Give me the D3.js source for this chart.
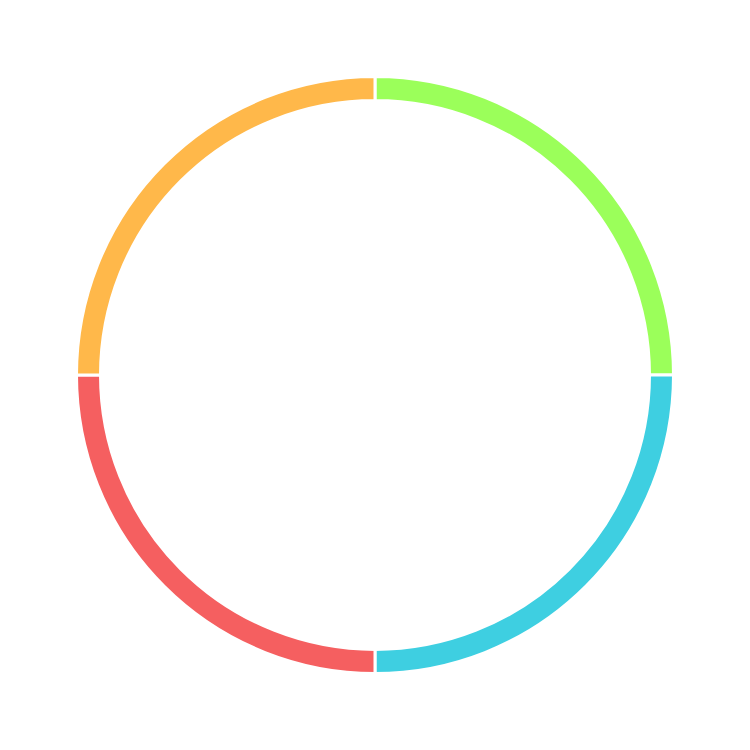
<!DOCTYPE html>
<html>
<head>
<meta charset="utf-8">
<script src="https://cdn.jsdelivr.net/npm/d3@7"></script>
<style>
html,body{margin:0;padding:0;background:#fff;}
svg{display:block;}
</style>
</head>
<body>
<svg id="chart" width="750" height="750"></svg>
<script>
const categories = ["A", "B", "C", "D"];
const values = [25, 25, 25, 25];
const colors = ["#9BFF5A", "#3ECFE1", "#F55F60", "#FFB84A"];

const width = 750, height = 750;
const svg = d3.select("#chart");
const g = svg.append("g").attr("transform", `translate(${width/2},${height/2})`);

const data = categories.map((c, i) => ({category: c, value: values[i]}));
const pie = d3.pie().value(d => d.value).sort(null);
const arc = d3.arc().innerRadius(274.5).outerRadius(298.5);
const color = d3.scaleOrdinal().domain(categories).range(colors);

g.selectAll("path")
  .data(pie(data))
  .join("path")
  .attr("d", arc)
  .attr("fill", d => color(d.data.category))
  .attr("stroke", "#fff")
  .attr("stroke-width", 3);
</script>
</body>
</html>
